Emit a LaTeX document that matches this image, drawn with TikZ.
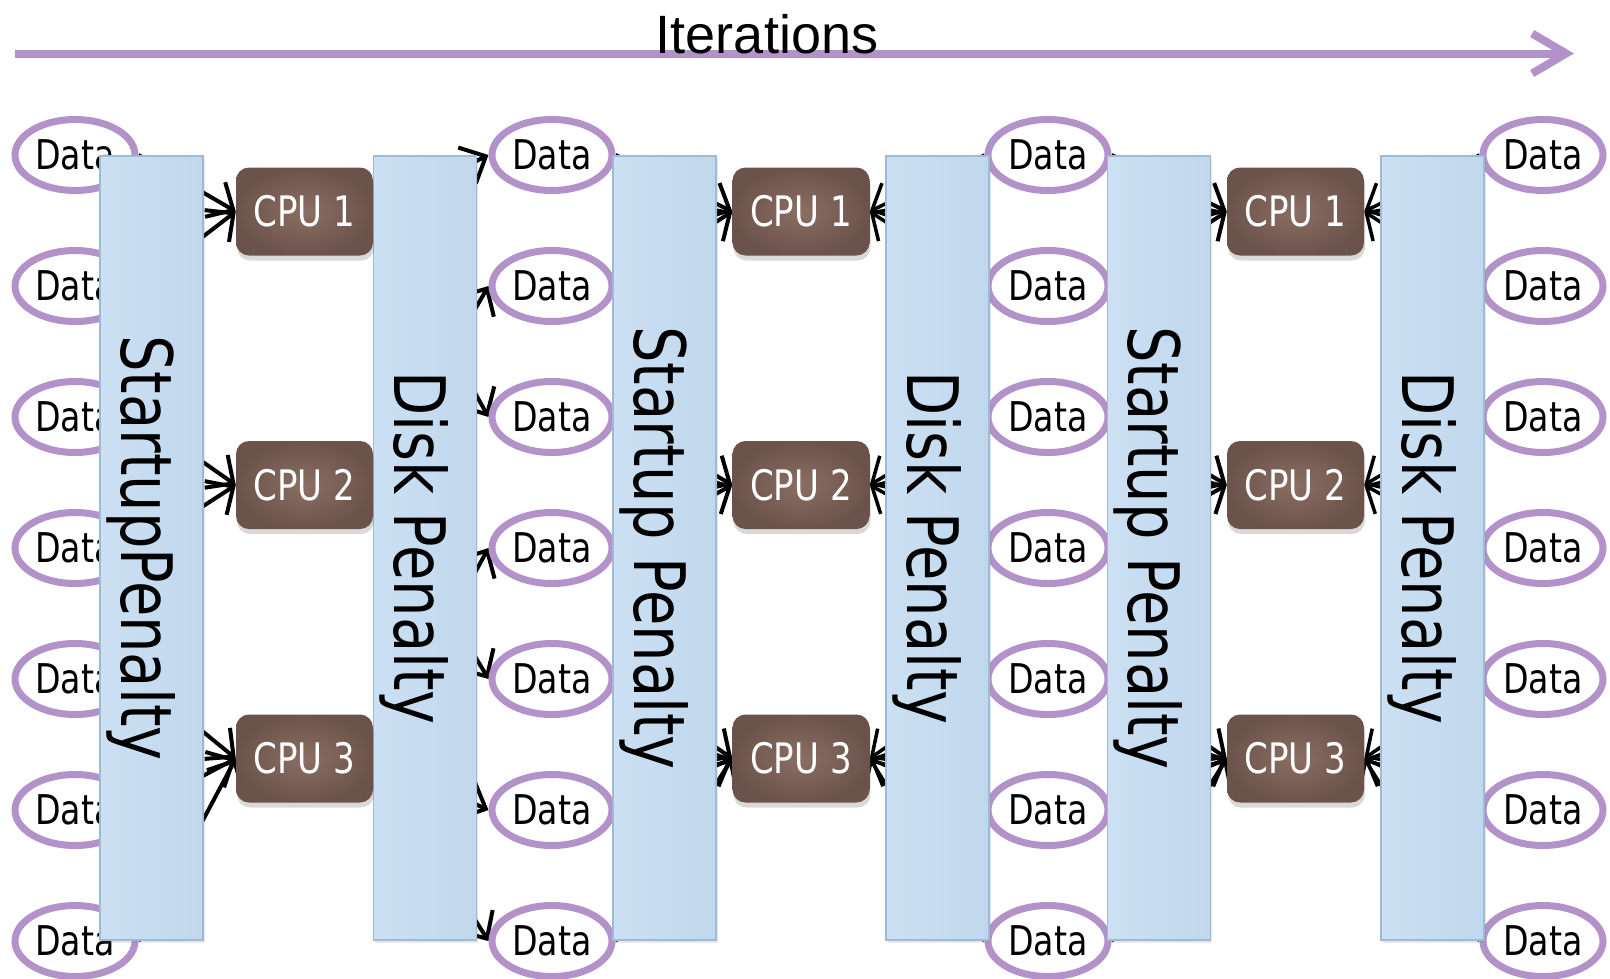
\documentclass[tikz,border=0pt]{standalone}
\usepackage{fontspec}
\setmainfont{Liberation Sans}
\newfontfamily\tahoma[FakeStretch=0.9]{DejaVu Sans Condensed}
\usepackage{xcolor}
\usepackage{tikz}
\usetikzlibrary{positioning, shapes.geometric, arrows.meta, shadows}

\definecolor{iterpurple}{HTML}{B392CA}
\definecolor{barblue}{HTML}{C0D7ED}
\definecolor{barlight}{HTML}{CCE0F2}
\definecolor{baredge}{HTML}{9DBAD6}
\definecolor{cpubrown}{HTML}{8B6E64}
\definecolor{cpudark}{HTML}{6B534B}

\pgfdeclarelayer{arrows}
\pgfsetlayers{arrows,main}

\tikzset{
  datanode/.style={ellipse, draw=iterpurple, line width=7pt, minimum width=120pt, minimum height=71pt,
    inner sep=0pt, font=\tahoma\fontsize{41}{48}\selectfont},
  cpunode/.style={rectangle, rounded corners=13pt, minimum width=137pt, minimum height=88pt,
    inner color=cpubrown, outer color=cpudark, text=white, font=\tahoma\fontsize{42}{48}\selectfont,
    drop shadow={opacity=0.3, shadow xshift=1pt, shadow yshift=-5pt}},
  penaltybar/.style={rectangle, draw=baredge, line width=1.5pt, left color=barlight, right color=barblue,
    minimum width=103pt, minimum height=784pt, inner sep=0pt,
    drop shadow={opacity=0.18, shadow xshift=2pt, shadow yshift=-3pt}},
  bartext/.style={rotate=-90, anchor=base, font=\tahoma\fontsize{71}{80}\selectfont},
  flow/.style={line width=4pt, -{Straight Barb[length=21pt, width=40pt]}},
  backflow/.style={flow, line width=3.5pt},
  iterline/.style={draw=iterpurple, line width=8pt, -{Straight Barb[length=34pt, width=40pt]}}
}

\begin{document}
\begin{tikzpicture}[x=1pt, y=-1pt]
        \useasboundingbox (0,0) rectangle (1610,978);
        % time axis
        \coordinate (itstart) at (15,53.5);
        \coordinate (itend) at (1574,53.5);
        \draw[iterline] (itstart) -- (itend);
        \node[font=\fontsize{54}{60}\selectfont, anchor=base, inner sep=0pt] (itlabel) at (767,53) {Iterations};
        % data columns
        \foreach \c/\x in {1/75, 2/552, 3/1048, 4/1543}
          \foreach \r in {1,...,7}
            \node[datanode] (d\c\r) at (\x,{155+131*(\r-1)}) {Data};
        % penalty bars
        \foreach \b/\x/\txt in {1/151.5/StartupPenalty, 2/424.75/Disk Penalty, 3/664.25/Startup Penalty,
                                4/937.5/Disk Penalty, 5/1158.75/Startup Penalty, 6/1432.5/Disk Penalty} {
          \node[penaltybar] (bar\b) at (\x,548) {};
          \node[bartext] (bartxt\b) at ([xshift=22pt]bar\b.west) {\txt};
        }
        % cpus
        \foreach \c/\x in {1/304.5, 2/801, 3/1295.5}
          \foreach \r/\y in {1/211.5, 2/485, 3/758.5}
            \node[cpunode] (cpu\c\r) at (\x,\y) {CPU \r};
        % connectors, behind the bars
        \begin{pgfonlayer}{arrows}
          \foreach \s/\t in {1/1, 2/1, 3/2, 4/2, 5/3, 6/3, 7/3} {
            \draw[flow] (d1\s.east) -- (cpu1\t.west);
            \draw[flow] (d2\s.east) -- (cpu2\t.west);
            \draw[flow] (d3\s.east) -- (cpu3\t.west);
            \draw[backflow] (d3\s.west) -- (cpu2\t.east);
            \draw[backflow] (d4\s.west) -- (cpu3\t.east);
          }
          \foreach \s/\t in {1/1, 1/3, 2/2, 2/5, 3/4, 3/6, 3/7}
            \draw[flow] (cpu1\s.east) -- (d2\t.west);
        \end{pgfonlayer}
    \end{tikzpicture}
\end{document}
